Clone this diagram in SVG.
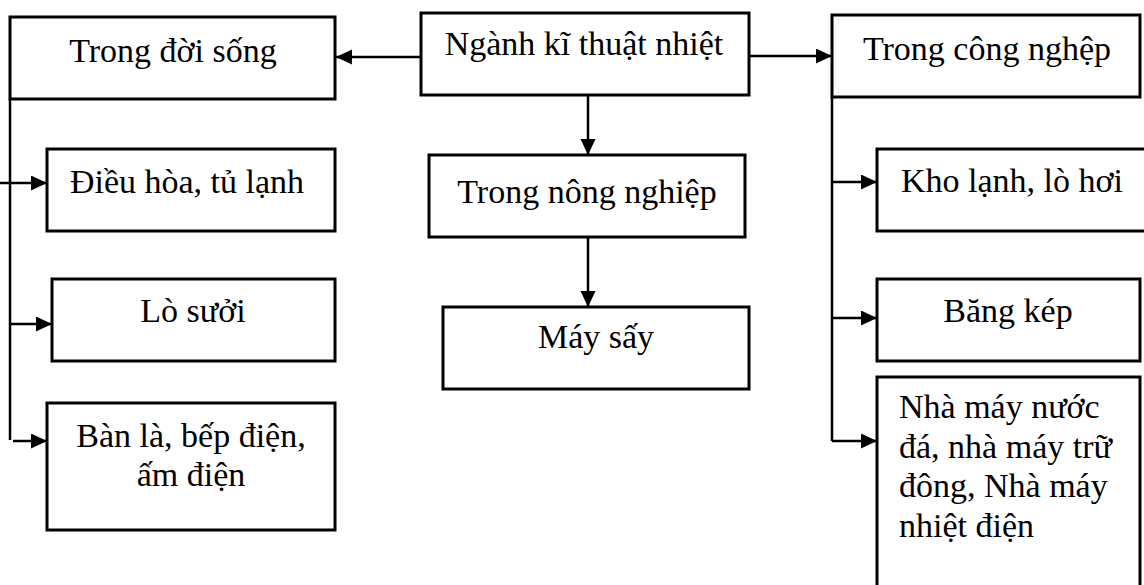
<svg xmlns="http://www.w3.org/2000/svg" width="1144" height="585" viewBox="0 0 1144 585">
  <style>
    .box { fill: #ffffff; stroke: #000000; stroke-width: 3; }
    text { font-family: 'Liberation Serif', 'DejaVu Serif', 'Times New Roman', serif; font-size: 34px; fill: #000000; }
    .mid { text-anchor: middle; }
    .wire { fill: none; stroke: #000000; stroke-width: 2.5; }
  </style>
  <defs>
    <marker id="arrow" markerUnits="userSpaceOnUse" markerWidth="17" markerHeight="16" refX="16" refY="7.5" orient="auto">
      <path d="M0,0 L16,7.5 L0,15 Z" fill="#000000"/>
    </marker>
  </defs>

  <rect width="1144" height="585" fill="#ffffff"/>

  <!-- connectors -->
  <g id="connectors">
    <line class="wire" x1="421" y1="57" x2="336" y2="57" marker-end="url(#arrow)"/>
    <line class="wire" x1="749" y1="56" x2="832" y2="56" marker-end="url(#arrow)"/>
    <line class="wire" x1="588" y1="95" x2="588" y2="155" marker-end="url(#arrow)"/>
    <line class="wire" x1="588" y1="232" x2="588" y2="307" marker-end="url(#arrow)"/>

    <!-- left branch -->
    <line class="wire" x1="10" y1="99" x2="10" y2="440"/>
    <line class="wire" x1="0" y1="183" x2="47" y2="183" marker-end="url(#arrow)"/>
    <line class="wire" x1="10" y1="324" x2="52" y2="324" marker-end="url(#arrow)"/>
    <line class="wire" x1="13" y1="441" x2="47" y2="441" marker-end="url(#arrow)"/>

    <!-- right branch -->
    <line class="wire" x1="832" y1="97" x2="832" y2="441"/>
    <line class="wire" x1="832" y1="182" x2="877" y2="182" marker-end="url(#arrow)"/>
    <line class="wire" x1="832" y1="318" x2="877" y2="318" marker-end="url(#arrow)"/>
    <line class="wire" x1="832" y1="441" x2="877" y2="441" marker-end="url(#arrow)"/>
  </g>

  <g id="nganh">
    <rect class="box" x="421" y="13" width="328" height="82"/>
    <text class="mid" x="584" y="55">Ngành kĩ thuật nhiệt</text>
  </g>

  <g id="doi-song">
    <rect class="box" x="10" y="17" width="325" height="82"/>
    <text class="mid" x="173" y="62">Trong đời sống</text>
  </g>

  <g id="cong-nghep">
    <rect class="box" x="832" y="15" width="308" height="82"/>
    <text class="mid" x="987" y="60">Trong công nghệp</text>
  </g>

  <g id="nong-nghiep">
    <rect class="box" x="429" y="155" width="316" height="82"/>
    <text class="mid" x="587" y="203">Trong nông nghiệp</text>
  </g>

  <g id="may-say">
    <rect class="box" x="443" y="307" width="306" height="82"/>
    <text class="mid" x="596" y="348">Máy sấy</text>
  </g>

  <g id="dieu-hoa">
    <rect class="box" x="47" y="149" width="288" height="82"/>
    <text class="mid" x="187" y="193">Điều hòa, tủ lạnh</text>
  </g>

  <g id="lo-suoi">
    <rect class="box" x="52" y="279" width="283" height="82"/>
    <text class="mid" x="193" y="322">Lò sưởi</text>
  </g>

  <g id="ban-la">
    <rect class="box" x="47" y="403" width="288" height="127"/>
    <text class="mid" x="191" y="447">Bàn là, bếp điện,</text>
    <text class="mid" x="191" y="486">ấm điện</text>
  </g>

  <g id="kho-lanh">
    <rect class="box" x="877" y="149" width="280" height="82"/>
    <text class="mid" x="1012" y="192">Kho lạnh, lò hơi</text>
  </g>

  <g id="bang-kep">
    <rect class="box" x="877" y="279" width="263" height="82"/>
    <text class="mid" x="1008" y="322">Băng kép</text>
  </g>

  <g id="nha-may">
    <rect class="box" x="877" y="377" width="263" height="230"/>
    <text x="899" y="418">Nhà máy nước</text>
    <text x="899" y="458">đá, nhà máy trữ</text>
    <text x="899" y="497">đông, Nhà máy</text>
    <text x="899" y="537">nhiệt điện</text>
  </g>
</svg>
